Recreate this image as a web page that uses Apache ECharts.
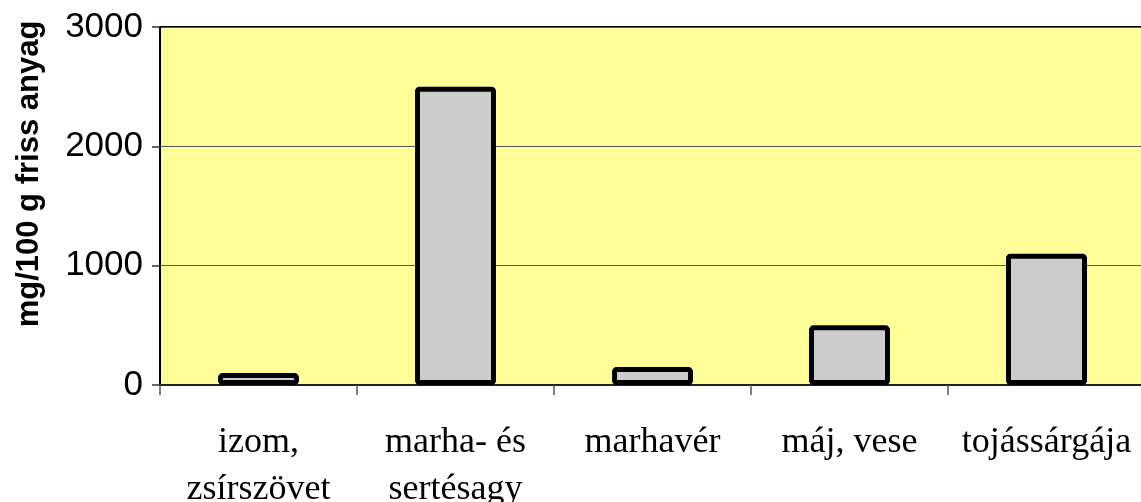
<!DOCTYPE html>
<html>
<head>
<meta charset="utf-8">
<script src="https://cdn.jsdelivr.net/npm/echarts@6/dist/echarts.min.js"></script>
<style>
  html, body { margin: 0; padding: 0; background: #fff; }
  #chart { width: 1141px; height: 502px; }
</style>
</head>
<body>
<div id="chart"></div>
<script>
const categories = ['izom,\nzsírszövet', 'marha- és\nsertésagy', 'marhavér', 'máj, vese', 'tojássárgája'];
const values = [100, 2500, 150, 500, 1100];
const yTicks = [0, 1000, 2000, 3000];
const yTitle = 'mg/100 g friss anyag';

const chart = echarts.init(document.getElementById('chart'));

chart.setOption({
    animation: false,
    grid: {
        left: 160,
        top: 27,
        width: 985,
        bottom: 117,
        outerBoundsMode: 'none',
        containLabel: false,
        show: true,
        backgroundColor: '#ffff99',
        borderColor: '#000',
        borderWidth: 2
    },
    // rotated axis title, placed as in the reference (not centred on the plot)
    graphic: [{
        type: 'text',
        x: 29,
        y: 174,
        rotation: Math.PI / 2,
        style: {
            text: yTitle,
            fill: '#000',
            font: 'bold 31px "Liberation Sans"',
            align: 'center',
            verticalAlign: 'middle'
        }
    }],
    xAxis: {
        type: 'category',
        data: categories,
        axisLine: { lineStyle: { color: '#222', width: 2 } },
        axisTick: { show: true, alignWithLabel: false, length: 10, lineStyle: { color: '#555', width: 1.5 } },
        axisLabel: {
            color: '#000',
            fontFamily: 'Liberation Serif',
            fontSize: 36,
            lineHeight: 47,
            margin: 34,
            interval: 0
        }
    },
    yAxis: {
        type: 'value',
        min: yTicks[0],
        max: yTicks[yTicks.length - 1],
        interval: 1000,
        axisLine: { show: true, lineStyle: { color: '#000', width: 2 } },
        axisTick: { show: true, length: 8, lineStyle: { color: '#333', width: 1.5 } },
        axisLabel: {
            color: '#000',
            fontFamily: 'Liberation Sans',
            fontSize: 35,
            margin: 17,
            formatter: (v) => String(v)
        },
        splitLine: { lineStyle: { color: '#555', width: 1 } }
    },
    series: [{
        type: 'bar',
        data: values,
        barWidth: 81,
        itemStyle: {
            color: '#cccccc',
            borderColor: '#000',
            borderWidth: 5,
            borderRadius: 2
        }
    }]
});
</script>
</body>
</html>
